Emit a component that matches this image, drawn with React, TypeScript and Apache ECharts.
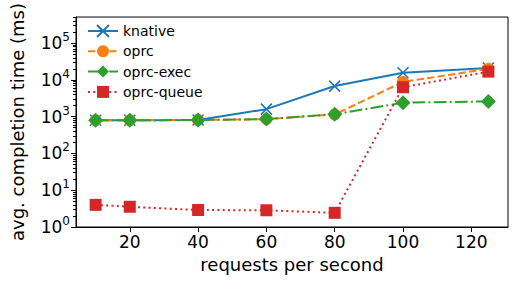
import React, { useEffect, useRef } from "react";
import * as echarts from "echarts";

const rps = [10, 20, 40, 60, 80, 100, 125];
const knative = [800, 800, 810, 1600, 6800, 15600, 21000];
const oprc = [800, 800, 810, 860, 1150, 8800, 20000];
const oprcExec = [800, 800, 810, 860, 1170, 2400, 2600];
const oprcQueue = [4.0, 3.55, 2.9, 2.85, 2.43, 6300, 16800];
const xTicks = [20, 40, 60, 80, 100, 120];
const yTicks = [1, 10, 100, 1000, 10000, 100000];
const yMinorTicks: number[] = [];
for (let e = 0; e <= 5; e++) {
  for (let m = 2; m <= 9; m++) yMinorTicks.push(m * Math.pow(10, e));
}

const FONT = "DejaVu Sans";
const pair = (ys: number[]) => rps.map((x, i) => [x, ys[i]]);

export default function App() {
  const ref = useRef<HTMLDivElement>(null);
  useEffect(() => {
    if (!ref.current) return;
    const chart = echarts.init(ref.current, undefined, { renderer: "svg" });
    const sup = {
      b: { fontSize: 17, fontFamily: FONT, color: "#000", lineHeight: 24 },
      s: { fontSize: 12, fontFamily: FONT, color: "#000", lineHeight: 24, verticalAlign: "top" as const },
    };
    const yCommon = {
      type: "log" as const,
      logBase: 10,
      min: 1,
      max: 512000,
    };
    chart.setOption({
      animation: false,
      grid: {
        left: 72,
        right: 10,
        top: 9.5,
        bottom: 58,
        show: true,
        borderColor: "#000",
        borderWidth: 1,
      },
      legend: {
        left: 82,
        top: 19,
        orient: "vertical",
        itemWidth: 30,
        itemHeight: 15,
        itemGap: 6.3,
        textStyle: { fontSize: 14, fontFamily: FONT, color: "#000" },
        data: ["knative", "oprc", "oprc-exec", "oprc-queue"],
      },
      xAxis: {
        type: "value",
        min: 4.25,
        max: 130.75,
        name: "requests per second",
        nameLocation: "middle",
        nameGap: 28,
        nameTextStyle: { fontSize: 18, fontFamily: FONT, color: "#000" },
        axisLine: { lineStyle: { color: "#000", width: 1 } },
        axisTick: { customValues: xTicks, length: 5, lineStyle: { color: "#000" } },
        axisLabel: { customValues: xTicks, fontSize: 17, fontFamily: FONT, color: "#000", margin: 6 },
        splitLine: { show: false },
      },
      yAxis: [
        {
          ...yCommon,
          name: "avg. completion time (ms)",
          nameLocation: "middle",
          nameGap: 50,
          nameTextStyle: { fontSize: 18, fontFamily: FONT, color: "#000" },
          axisLine: { show: true, lineStyle: { color: "#000", width: 1 } },
          axisTick: { customValues: yTicks, length: 5, lineStyle: { color: "#000" } },
          axisLabel: {
            customValues: yTicks,
            margin: 6,
            formatter: (v: number) => `{b|10}{s|${Math.round(Math.log10(v))}}`,
            rich: sup,
          },
          splitLine: { show: false },
        },
        {
          ...yCommon,
          position: "left",
          axisLine: { show: false },
          axisTick: { customValues: yMinorTicks, length: 3, lineStyle: { color: "#000" } },
          axisLabel: { show: false },
          splitLine: { show: false },
        },
      ],
      series: [
        {
          name: "knative",
          type: "line",
          data: pair(knative),
          color: "#1f77b4",
          symbol: "path://M0,0L10,10M10,0L0,10",
          symbolSize: 11,
          itemStyle: { color: "#1f77b4", borderColor: "#1f77b4", borderWidth: 1.6 },
          lineStyle: { color: "#1f77b4", width: 2, type: "solid" },
        },
        {
          name: "oprc",
          type: "line",
          data: pair(oprc),
          color: "#ff7f0e",
          symbol: "circle",
          symbolSize: 12,
          itemStyle: { color: "#ff7f0e", borderWidth: 0 },
          lineStyle: { color: "#ff7f0e", width: 2, type: [7.4, 3.2] },
        },
        {
          name: "oprc-exec",
          type: "line",
          data: pair(oprcExec),
          color: "#2ca02c",
          symbol: "diamond",
          symbolSize: 15,
          itemStyle: { color: "#2ca02c", borderWidth: 0 },
          lineStyle: { color: "#2ca02c", width: 2, type: [12.8, 3.2, 2, 3.2] },
        },
        {
          name: "oprc-queue",
          type: "line",
          data: pair(oprcQueue),
          color: "#d62728",
          symbol: "rect",
          symbolSize: 12,
          itemStyle: { color: "#d62728", borderWidth: 0 },
          lineStyle: { color: "#d62728", width: 2, type: [2, 3.3] },
        },
      ],
    });
    return () => chart.dispose();
  }, []);
  return (
    <div
      ref={ref}
      style={{ position: "fixed", left: 0, top: 0, width: 518, height: 285, background: "#fff" }}
    />
  );
}
